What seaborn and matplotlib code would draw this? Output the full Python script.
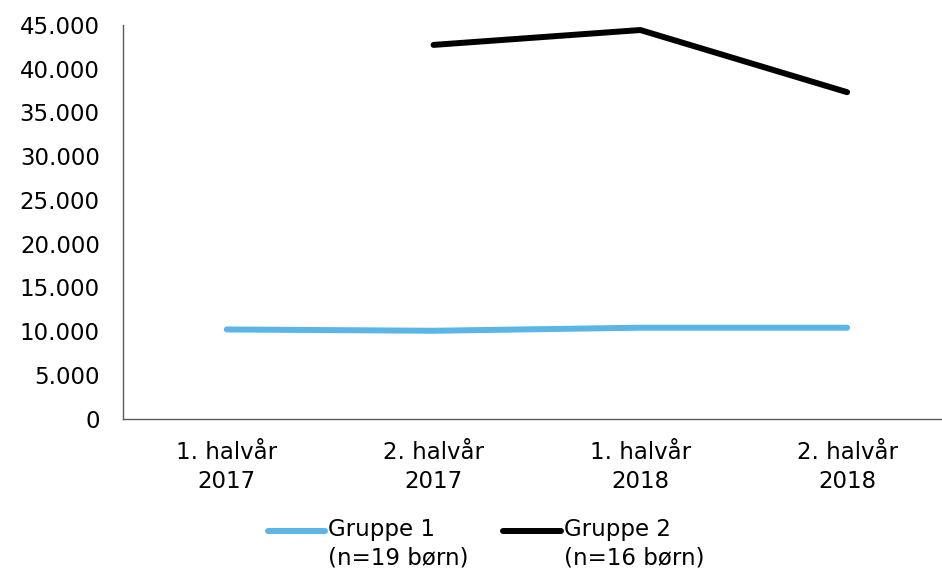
import matplotlib
matplotlib.use("Agg")
import matplotlib.pyplot as plt
from matplotlib.ticker import FuncFormatter
from matplotlib.lines import Line2D
from matplotlib.legend_handler import HandlerLine2D
import seaborn as sns
import pandas as pd
import numpy as np

categories = ["1. halvår\n2017", "2. halvår\n2017", "1. halvår\n2018", "2. halvår\n2018"]
gruppe1 = [10200, 10050, 10400, 10400]
gruppe2 = [np.nan, 42700, 44400, 37300]
series_names = ["Gruppe 1\n(n=19 børn)", "Gruppe 2\n(n=16 børn)"]
colors = ["#5BB5E5", "#000000"]
yticks = list(range(0, 45001, 5000))

sns.set_theme(style="white")
plt.rcParams["font.family"] = ["DejaVu Sans"]
plt.rcParams["text.color"] = "black"

FS = 16.5
LW = 4.3

rows = []
for name, vals in zip(series_names, [gruppe1, gruppe2]):
    for i, v in enumerate(vals):
        rows.append({"x": i, "value": v, "serie": name})
df = pd.DataFrame(rows).dropna()

fig = plt.figure(figsize=(9.42, 5.76), dpi=100)
ax = fig.add_axes([0.131, 0.273, 0.878, 0.684])

sns.lineplot(data=df, x="x", y="value", hue="serie", palette=colors,
             hue_order=series_names, ax=ax, linewidth=LW, legend=False,
             solid_capstyle="round")

ax.set_xlim(-0.5, 3.5)
ax.set_ylim(0, 45000)
ax.set_yticks(yticks)
ax.yaxis.set_major_formatter(FuncFormatter(lambda v, p: f"{int(v):,}".replace(",", ".")))
ax.set_xticks(range(len(categories)))
ax.set_xticklabels(categories, linespacing=1.35)
ax.tick_params(axis="both", labelsize=FS, colors="black", length=0)
ax.tick_params(axis="x", pad=16)
ax.tick_params(axis="y", pad=17)
ax.set_xlabel("")
ax.set_ylabel("")
for s in ["top", "right"]:
    ax.spines[s].set_visible(False)
for s in ["left", "bottom"]:
    ax.spines[s].set_color("#595959")
    ax.spines[s].set_linewidth(1.0)


class TopHandler(HandlerLine2D):
    def create_artists(self, legend, orig_handle, xdescent, ydescent, width,
                       height, fontsize, trans):
        arts = super().create_artists(legend, orig_handle, xdescent, ydescent,
                                      width, height, fontsize, trans)
        for a in arts:
            a.set_ydata(np.asarray(a.get_ydata()) + fontsize * 0.62)
        return arts


handles = [Line2D([0], [0], color=c, linewidth=LW, solid_capstyle="round") for c in colors]
leg = fig.legend(handles, series_names, loc="lower center", bbox_to_anchor=(0.516, -0.025),
                 ncol=2, frameon=False, fontsize=FS, handlelength=2.5, handletextpad=0.15,
                 columnspacing=1.5,
                 handler_map={Line2D: TopHandler()})
for t in leg.get_texts():
    t.set_color("black")
    t.set_linespacing(1.3)

fig.savefig("out.png", dpi=100)
